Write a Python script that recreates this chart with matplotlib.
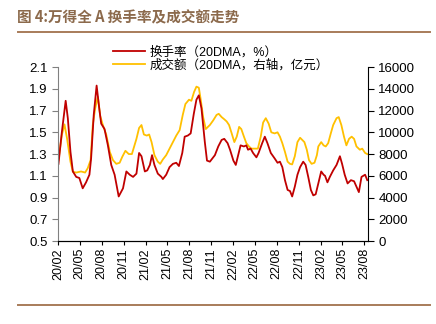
import pandas as pd
import matplotlib.pyplot as plt
import matplotlib.dates as mdates

plt.rcParams['font.family'] = ['Liberation Sans', 'Noto Sans CJK SC', 'DejaVu Sans']

# turnover rate, 20DMA, %  (left axis)
turn_dates = [
    "2020-02-03", "2020-02-17", "2020-03-04", "2020-03-13", "2020-03-24", "2020-04-03",
    "2020-04-17", "2020-04-30", "2020-05-14", "2020-05-28", "2020-06-11", "2020-06-18",
    "2020-06-29", "2020-07-11", "2020-07-22", "2020-07-30", "2020-08-13", "2020-08-27",
    "2020-09-10", "2020-09-24", "2020-10-11", "2020-10-29", "2020-11-12", "2020-11-26",
    "2020-12-10", "2020-12-24", "2021-01-04", "2021-01-14", "2021-01-28", "2021-02-07",
    "2021-02-18", "2021-02-27", "2021-03-09", "2021-03-23", "2021-04-07", "2021-04-13",
    "2021-04-27", "2021-05-11", "2021-05-25", "2021-06-08", "2021-06-19", "2021-07-03",
    "2021-07-13", "2021-07-26", "2021-08-07", "2021-08-20", "2021-08-31", "2021-09-10",
    "2021-09-21", "2021-10-05", "2021-10-14", "2021-10-26", "2021-11-02", "2021-11-16",
    "2021-11-30", "2021-12-14", "2021-12-25", "2022-01-08", "2022-01-18", "2022-02-01",
    "2022-02-11", "2022-02-21", "2022-03-03", "2022-03-17", "2022-03-27", "2022-04-03",
    "2022-04-14", "2022-04-24", "2022-05-08", "2022-05-17", "2022-06-01", "2022-06-12",
    "2022-06-23", "2022-07-07", "2022-07-23", "2022-08-04", "2022-08-14", "2022-08-24",
    "2022-09-04", "2022-09-15", "2022-09-25", "2022-10-04", "2022-10-15", "2022-10-26",
    "2022-11-06", "2022-11-19", "2022-11-29", "2022-12-10", "2022-12-21", "2022-12-31",
    "2023-01-10", "2023-01-21", "2023-02-02", "2023-02-12", "2023-02-18", "2023-02-28",
    "2023-03-10", "2023-03-24", "2023-04-07", "2023-04-21", "2023-04-30", "2023-05-11",
    "2023-05-23", "2023-06-06", "2023-06-19", "2023-06-29", "2023-07-09", "2023-07-20",
    "2023-08-04", "2023-08-13",
]
turnover = [
    1.21, 1.50, 1.79, 1.63, 1.32, 1.14,
    1.09, 1.08, 0.985, 1.04, 1.11, 1.26,
    1.66, 1.93, 1.72, 1.58, 1.53, 1.38,
    1.20, 1.11, 0.91, 0.985, 1.14, 1.11,
    1.09, 1.12, 1.31, 1.28, 1.14, 1.15,
    1.20, 1.29, 1.20, 1.12, 1.09, 1.07,
    1.11, 1.18, 1.21, 1.22, 1.19, 1.31,
    1.46, 1.47, 1.49, 1.67, 1.80, 1.84,
    1.72, 1.41, 1.24, 1.23, 1.25, 1.29,
    1.37, 1.43, 1.44, 1.40, 1.34, 1.24,
    1.20, 1.29, 1.38, 1.37, 1.38, 1.34,
    1.35, 1.31, 1.27, 1.31, 1.40, 1.46,
    1.40, 1.31, 1.26, 1.22, 1.23, 1.18,
    1.06, 0.97, 0.96, 0.91, 1.00, 1.11,
    1.18, 1.23, 1.20, 1.09, 0.97, 0.92,
    0.93, 1.03, 1.14, 1.11, 1.10, 1.04,
    1.09, 1.15, 1.20, 1.28, 1.21, 1.11,
    1.03, 1.06, 1.05, 1.00, 0.95, 1.09,
    1.11, 1.06,
]

# turnover value, 20DMA, 100m yuan  (right axis)
vol_dates = [
    "2020-02-03", "2020-02-17", "2020-02-28", "2020-03-10", "2020-03-24", "2020-04-03",
    "2020-04-17", "2020-05-07", "2020-05-24", "2020-06-04", "2020-06-16", "2020-06-25",
    "2020-07-05", "2020-07-16", "2020-07-26", "2020-08-06", "2020-08-20", "2020-09-04",
    "2020-09-17", "2020-10-01", "2020-10-15", "2020-10-26", "2020-11-08", "2020-11-22",
    "2020-12-05", "2020-12-24", "2021-01-04", "2021-01-14", "2021-01-24", "2021-02-05",
    "2021-02-15", "2021-02-25", "2021-03-09", "2021-03-23", "2021-04-02", "2021-04-13",
    "2021-04-27", "2021-05-11", "2021-05-25", "2021-06-08", "2021-06-22", "2021-07-05",
    "2021-07-16", "2021-07-31", "2021-08-10", "2021-08-21", "2021-08-31", "2021-09-10",
    "2021-09-18", "2021-09-28", "2021-10-09", "2021-10-18", "2021-10-26", "2021-11-09",
    "2021-11-23", "2021-12-02", "2021-12-14", "2021-12-25", "2022-01-04", "2022-01-14",
    "2022-01-25", "2022-02-05", "2022-02-15", "2022-02-25", "2022-03-06", "2022-03-17",
    "2022-03-27", "2022-04-07", "2022-04-17", "2022-04-30", "2022-05-14", "2022-05-26",
    "2022-06-05", "2022-06-16", "2022-06-28", "2022-07-09", "2022-07-23", "2022-08-04",
    "2022-08-14", "2022-08-24", "2022-09-04", "2022-09-15", "2022-09-25", "2022-10-04",
    "2022-10-15", "2022-10-26", "2022-11-06", "2022-11-15", "2022-11-24", "2022-12-04",
    "2022-12-13", "2022-12-24", "2023-01-05", "2023-01-15", "2023-01-21", "2023-02-02",
    "2023-02-12", "2023-02-21", "2023-03-03", "2023-03-14", "2023-03-24", "2023-04-07",
    "2023-04-16", "2023-04-27", "2023-05-08", "2023-05-18", "2023-05-29", "2023-06-09",
    "2023-06-19", "2023-06-29", "2023-07-13", "2023-07-23", "2023-08-04", "2023-08-13",
]
volume = [
    7450, 9750, 10730, 9400, 7300, 6370,
    6300, 6400, 6300, 6700, 7450, 10670,
    12200, 13270, 11500, 10670, 9800, 8200,
    7450, 7100, 7200, 7750, 8300, 8000,
    8000, 9400, 10400, 10670, 9800, 9700,
    9800, 9100, 7900, 7300, 7100, 7500,
    7900, 8500, 9100, 9700, 10200, 11600,
    12600, 13000, 12900, 13700, 14200, 14100,
    13000, 11400, 10300, 10500, 10670, 11100,
    11600, 11700, 11400, 11200, 11000, 10670,
    9900, 9100, 9600, 10500, 10300, 9600,
    9000, 8700, 8500, 8500, 8500, 9600,
    10900, 11300, 10800, 10000, 9900, 10000,
    9600, 9000, 8200, 7300, 7100, 7050,
    7800, 9100, 9500, 9300, 9100, 8400,
    7450, 7100, 7200, 7900, 8700, 9100,
    8800, 8700, 9000, 9900, 10670, 11300,
    11400, 10670, 9600, 8800, 9400, 9600,
    9400, 8700, 8400, 8500, 8100, 8000,
]

tick_dates = pd.date_range("2020-02-01", "2023-08-01", freq="3MS")

fig = plt.figure(figsize=(4.36, 3.24), dpi=100)
ax = fig.add_axes([0.133, 0.256, 0.711, 0.537])
ax2 = ax.twinx()

l1, = ax.plot(pd.to_datetime(turn_dates), turnover, color="#C00000", lw=1.3,
              label="换手率（20DMA，%）")
l2, = ax2.plot(pd.to_datetime(vol_dates), volume, color="#FFC000", lw=1.3,
               label="成交额（20DMA，右轴，亿元）")
ax.set_zorder(ax2.get_zorder() + 1)
ax.patch.set_visible(False)

ax.set_ylim(0.5, 2.1)
ax.set_yticks([0.5, 0.7, 0.9, 1.1, 1.3, 1.5, 1.7, 1.9, 2.1])
ax2.set_ylim(0, 16000)
ax2.set_yticks(range(0, 16001, 2000))
ax.set_xlim(pd.Timestamp("2020-02-02"), pd.Timestamp("2023-08-16"))
ax.set_xticks(tick_dates)
ax.xaxis.set_major_formatter(mdates.DateFormatter("%y/%m"))
ax.tick_params(axis="x", rotation=90, labelsize=9, length=3, pad=2)
ax.tick_params(axis="y", labelsize=9.5, length=4, color="#808080")
ax2.tick_params(axis="y", labelsize=9.5, length=4)

for a in (ax, ax2):
    a.spines["top"].set_visible(False)
ax.spines["left"].set_color("#808080")
ax.spines["right"].set_visible(False)
ax2.spines["left"].set_visible(False)

fig.legend(handles=[l1, l2], loc="upper left", bbox_to_anchor=(0.24, 0.885),
           frameon=False, fontsize=9, handlelength=2.5, handletextpad=0.4,
           labelspacing=0.05, borderpad=0.2,
           prop={"family": ["Liberation Sans", "Noto Sans CJK SC"], "size": 9})

fig.text(0.04, 0.947, "图 4:万得全 A 换手率及成交额走势", fontsize=10.5, fontweight="bold",
         color="#8C6A4C", va="center", family=["Noto Sans CJK SC", "DejaVu Sans"])
fig.add_artist(plt.Line2D([0.042, 0.987], [0.902, 0.902], color="#A87C5A", lw=1.4))
fig.add_artist(plt.Line2D([0.042, 0.987], [0.06, 0.06], color="#A87C5A", lw=1.4))

fig.savefig("out.png", dpi=100)
